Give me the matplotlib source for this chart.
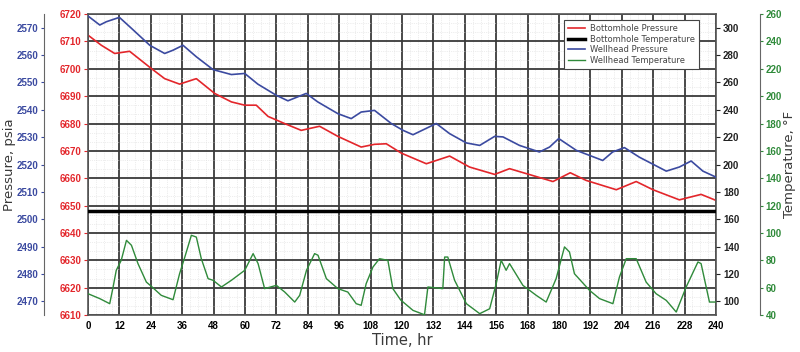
import matplotlib.pyplot as plt
from matplotlib.ticker import MultipleLocator, AutoMinorLocator
from matplotlib import font_manager

# data
t_bh_p = [0, 5.1, 10.2, 15.9, 24.2, 29.3, 35, 41.4, 48.4, 54.8, 59.9, 64.3, 68.8, 75.1, 81.5,
          88.5, 95.5, 104.4, 109.5, 114, 119.7, 129.3, 138.2, 145.8, 155.4, 161.1, 177.7,
          184.3, 190.4, 201.9, 209.5, 215.9, 226, 234.3, 240]
bh_p = [6712.3, 6708.6, 6705.6, 6706.4, 6700.1, 6696.4, 6694.4, 6696.4, 6691, 6687.9, 6686.7,
        6686.7, 6682.6, 6680, 6677.5, 6679, 6675.3, 6671.4, 6672.4, 6672.6, 6669.2, 6665.3,
        6668.1, 6664.1, 6661.4, 6663.5, 6658.8, 6662, 6659.2, 6655.8, 6658.8, 6655.8, 6652.1,
        6654.1, 6651.9]

t_wh_p = [0, 4.5, 7, 12, 16.6, 23.6, 29.3, 32.5, 36.3, 41.4, 47.8, 54.8, 59.9, 64.9, 72, 76.4,
          83.4, 87.8, 95.5, 100.6, 104.4, 109.5, 115.9, 120.4, 124.2, 133.1, 138.2, 144.6,
          149.7, 155.4, 158.6, 164.9, 172.5, 176.4, 179.9, 186.6, 196.7, 200.5, 205, 210.7,
          221, 226, 230.5, 235, 240]
wh_p = [2574.3, 2571, 2572.2, 2573.8, 2569.8, 2563.6, 2560.6, 2561.8, 2563.6, 2559.4, 2554.7,
        2552.9, 2553.3, 2549.4, 2545.3, 2543.3, 2546, 2542.9, 2538.6, 2536.8, 2539.2, 2539.8,
        2535, 2532.5, 2530.9, 2535, 2531.3, 2527.9, 2527, 2530.3, 2530.1, 2527, 2524.6, 2526.4,
        2529.5, 2525.2, 2521.5, 2524.6, 2526.2, 2522.7, 2517.6, 2519.1, 2521.3, 2517.6, 2515.4]

t_bh_t = [0, 240]
bh_t = [166, 166]

t_wh_t = [0, 4.5, 8.3, 9.6, 10.8, 12.7, 14.7, 16.6, 19.1, 22.3, 24.2, 28, 32.5, 35, 37, 39.5,
          41.4, 43.3, 45.9, 47.8, 51, 54.8, 59.9, 63.1, 65, 67.5, 72, 75.2, 79, 80.9, 83.5,
          86.6, 87.9, 91.1, 95.5, 99.3, 102.5, 104.4, 106.3, 108.9, 111.4, 114.6, 116.5,
          119.5, 124.2, 128.6, 129.9, 135.6, 136.3, 137.5, 140.1, 144.6, 149.7, 153.5, 156,
          157.9, 159.8, 161.1, 166.2, 171.3, 175.1, 178.9, 182.1, 184, 185.9, 191.7, 195.5,
          200.6, 203.1, 205.7, 209.5, 213.3, 217.1, 221, 224.8, 228.6, 233.1, 234.3, 237.5, 240]
wh_t = [55.6, 52, 48.3, 60.5, 72.7, 80, 94.6, 91, 77.6, 64.1, 61, 54.4, 51.2, 70.2, 82.4, 98.3,
        97, 81.2, 66.6, 65.4, 60.5, 65.4, 72.7, 84.9, 77.6, 59.3, 61.7, 56.8, 49.5, 54.4, 72.7,
        84.9, 83.7, 66.6, 59.3, 56.8, 48.3, 47.1, 62.9, 75.1, 81.2, 80, 59.3, 51, 43.4, 40.2,
        60.5, 59.3, 82.4, 82.4, 65.4, 48.3, 41, 44.6, 62.9, 80, 72.7, 77.6, 61.7, 54.4, 49.5,
        66.6, 89.8, 86.1, 70.2, 58, 52, 48.3, 67.8, 81.2, 81.2, 64.1, 55.6, 50.7, 42.2, 60.5,
        78.8, 77.6, 49.5, 49.5]

x_ticks = list(range(0, 241, 12))

names = [f.name for f in font_manager.fontManager.ttflist]
tick_font = 'Liberation Sans Narrow' if 'Liberation Sans Narrow' in names else 'Liberation Sans'
TFS = 7

RED = '#e3262b'
BLUE = '#3b4aa0'
GREEN = '#2f8a3a'
GRAY = '#3a3a3a'

fig = plt.figure(figsize=(8, 3.52), dpi=100)
ax = fig.add_axes([0.110, 0.105, 0.785, 0.855])


def style_ticks(a):
    for lb in a.get_yticklabels():
        lb.set_fontfamily(tick_font)
        lb.set_fontweight('bold')
        lb.set_fontsize(TFS)


# grid
ax.set_xlim(0, 240)
ax.set_ylim(6610, 6720)
ax.xaxis.set_major_locator(MultipleLocator(12))
ax.yaxis.set_major_locator(MultipleLocator(10))
ax.xaxis.set_minor_locator(AutoMinorLocator(4))
ax.yaxis.set_minor_locator(AutoMinorLocator(3))
ax.grid(which='major', color='#3a3a3a', lw=1.3)
ax.grid(which='minor', color='#dcdcdc', lw=0.5, ls=':')
ax.set_axisbelow(True)
for s in ax.spines.values():
    s.set_color('#555555')
    s.set_linewidth(1.2)

ax.set_xticks(x_ticks)
ax.set_xticklabels([str(v) for v in x_ticks], fontfamily=tick_font,
                   fontweight='bold', fontsize=TFS)
ax.tick_params(axis='x', which='both', length=0, pad=4)
ax.tick_params(axis='y', which='minor', length=0)
ax.tick_params(axis='y', length=3, colors=RED, pad=2)
style_ticks(ax)
ax.set_xlabel('Time, hr', fontsize=10.5, color=GRAY, labelpad=2)

l1, = ax.plot(t_bh_p, bh_p, color=RED, lw=1.2, label='Bottomhole Pressure')

# wellhead pressure axis, far left
axb = ax.twinx()
axb.spines['left'].set_position(('axes', -0.07))
axb.spines['left'].set_visible(True)
axb.spines['left'].set_color('#666666')
axb.spines['right'].set_visible(False)
axb.spines['top'].set_visible(False)
axb.spines['bottom'].set_visible(False)
axb.yaxis.set_label_position('left')
axb.yaxis.set_ticks_position('left')
axb.set_ylim(2465, 2575)
axb.yaxis.set_major_locator(MultipleLocator(10))
axb.tick_params(axis='y', colors=BLUE, length=2, pad=2)
style_ticks(axb)
axb.set_ylabel('Pressure, psia', fontsize=9.5, color=GRAY)
axb.yaxis.set_label_coords(-0.114, 0.5)
l3, = axb.plot(t_wh_p, wh_p, color=BLUE, lw=1.2, label='Wellhead Pressure')

# bottomhole temperature axis, right
axt = ax.twinx()
for k in ['left', 'top', 'bottom', 'right']:
    axt.spines[k].set_visible(False)
axt.set_ylim(90, 310)
axt.yaxis.set_major_locator(MultipleLocator(20))
axt.tick_params(axis='y', colors='#222222', length=3, pad=2)
style_ticks(axt)
l2, = axt.plot(t_bh_t, bh_t, color='black', lw=2.5, label='Bottomhole Temperature')

# wellhead temperature axis, far right
axg = ax.twinx()
for k in ['left', 'top', 'bottom']:
    axg.spines[k].set_visible(False)
axg.spines['right'].set_position(('axes', 1.07))
axg.spines['right'].set_color('#666666')
axg.set_ylim(40, 260)
axg.yaxis.set_major_locator(MultipleLocator(20))
axg.tick_params(axis='y', colors=GREEN, length=2, pad=2)
style_ticks(axg)
axg.set_ylabel('Temperature, °F', fontsize=9.5, color=GRAY)
axg.yaxis.set_label_coords(1.106, 0.5)
l4, = axg.plot(t_wh_t, wh_t, color=GREEN, lw=1.0, label='Wellhead Temperature')

leg = axg.legend(handles=[l1, l2, l3, l4], loc='upper right', bbox_to_anchor=(0.98, 0.995),
                 fontsize=6, frameon=True, fancybox=False, handlelength=2.0,
                 borderpad=0.5, labelspacing=0.2, handletextpad=0.6, framealpha=1)
leg.get_frame().set_edgecolor('#444444')
leg.get_frame().set_linewidth(0.8)
for txt in leg.get_texts():
    txt.set_color('#444444')

fig.savefig('out.png', dpi=100)
